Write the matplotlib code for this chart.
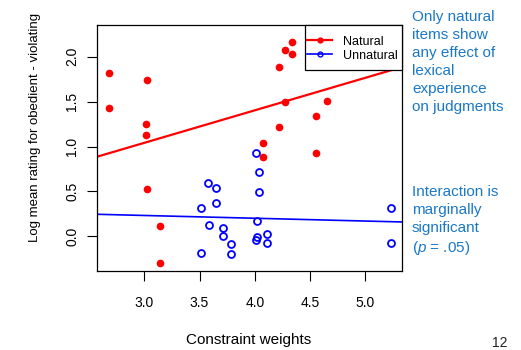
import matplotlib
matplotlib.use("Agg")
import matplotlib.pyplot as plt
from matplotlib.lines import Line2D
from matplotlib.patches import Rectangle

plt.rcParams['font.family'] = ['Liberation Sans', 'DejaVu Sans']
plt.rcParams['mathtext.fontset'] = 'custom'
plt.rcParams['mathtext.rm'] = 'Liberation Sans'
plt.rcParams['mathtext.it'] = 'Liberation Sans:italic'

# Natural items (red, filled)
natural_x = [2.68, 2.68, 3.027, 3.013, 3.013, 3.027, 3.142, 3.142, 4.337, 4.276,
             4.337, 4.219, 4.276, 4.219, 4.077, 4.077, 4.551, 4.653, 4.551]
natural_y = [1.82, 1.425, 1.744, 1.25, 1.125, 0.523, 0.115, -0.297, 2.16, 2.07,
             2.027, 1.882, 1.492, 1.217, 1.035, 0.887, 1.343, 1.503, 0.924]
# Unnatural items (blue, open)
unnatural_x = [4.011, 4.041, 4.041, 3.579, 3.652, 3.652, 3.513, 3.583, 3.709, 3.709,
               3.782, 3.782, 3.513, 4.017, 4.023, 4.011, 4.113, 4.113, 5.23, 5.23]
unnatural_y = [0.927, 0.72, 0.493, 0.59, 0.538, 0.374, 0.318, 0.122, 0.096, 0.007,
               -0.086, -0.2, -0.19, 0.174, -0.008, -0.038, 0.029, -0.071, 0.318, -0.071]
# regression lines (intercept, slope)
natural_fit = (-0.045, 0.362)
unnatural_fit = (0.325, -0.031)

x_ticks = [3.0, 3.5, 4.0, 4.5, 5.0]
y_ticks = [0.0, 0.5, 1.0, 1.5, 2.0]

RED = '#ff0000'
BLUE = '#0000ff'
TEXT_BLUE = '#1a78c8'

W, H = 521, 350
fig = plt.figure(figsize=(5.21, 3.5), dpi=100)
ax = fig.add_axes([0.1868, 0.2266, 0.771 - 0.1868, 0.9277 - 0.2266])

ax.plot(natural_x, natural_y, 'o', color=RED, markersize=4.5, zorder=3)
ax.plot(unnatural_x, unnatural_y, 'o', markerfacecolor='none', markeredgecolor=BLUE,
        markeredgewidth=1.3, markersize=5, zorder=3)
ax.axline((0, natural_fit[0]), slope=natural_fit[1], color=RED, lw=1.6)
ax.axline((0, unnatural_fit[0]), slope=unnatural_fit[1], color=BLUE, lw=1.2)

ax.set_xlim(2.575, 5.33)
ax.set_ylim(-0.383, 2.35)
ax.set_xticks(x_ticks)
ax.set_xticklabels([f'{v:.1f}' for v in x_ticks])
ax.set_yticks(y_ticks)
ax.set_yticklabels([f'{v:.1f}' for v in y_ticks], rotation=90, va='center')
ax.tick_params(axis='both', direction='out', length=7, width=0.8, labelsize=10)
ax.tick_params(axis='x', pad=11)
ax.tick_params(axis='y', pad=6)
for s in ax.spines.values():
    s.set_linewidth(0.9)
    s.set_color('black')

# legend frame (drawn as a box in figure pixels)
frame = Rectangle((305 / W, 1 - 70 / H), 97 / W, 45 / H, transform=fig.transFigure,
                  facecolor='white', edgecolor='black', linewidth=0.9, zorder=4)
fig.patches.append(frame)

handles = [Line2D([], [], color=RED, lw=1.6, marker='o', markersize=3.5),
           Line2D([], [], color=BLUE, lw=1.2, marker='o', markersize=3.5,
                  markerfacecolor='none', markeredgewidth=1.0)]
leg = fig.legend(handles, ['Natural', 'Unnatural'], loc='upper left',
                 bbox_to_anchor=(307 / W, 1 - 35 / H), bbox_transform=fig.transFigure,
                 borderaxespad=0, borderpad=0, fontsize=9, handlelength=2.0,
                 handletextpad=0.85, labelspacing=0.0, handleheight=1.15, frameon=False)
leg.set_zorder(6)

fig.text(249 / W, 1 - 340 / H, 'Constraint weights', ha='center', va='center', fontsize=11)
fig.text(35 / W, 1 - 127 / H, 'Log mean rating for obedient - violating',
         rotation=90, ha='center', va='center', fontsize=9.5)

fig.text(412 / W, 1 - 9.5 / H,
         'Only natural\nitems show\nany effect of\nlexical\nexperience\non judgments',
         ha='left', va='top', fontsize=11, color=TEXT_BLUE, linespacing=1.38)
fig.text(412 / W, 1 - 185 / H,
         'Interaction is\nmarginally\nsignificant\n($\\mathit{p}$ = .05)',
         ha='left', va='top', fontsize=11, color=TEXT_BLUE, linespacing=1.35)
fig.text(500 / W, 1 - 343 / H, '12', ha='center', va='center', fontsize=10, color='#222222')

fig.savefig('out.png', dpi=100)
